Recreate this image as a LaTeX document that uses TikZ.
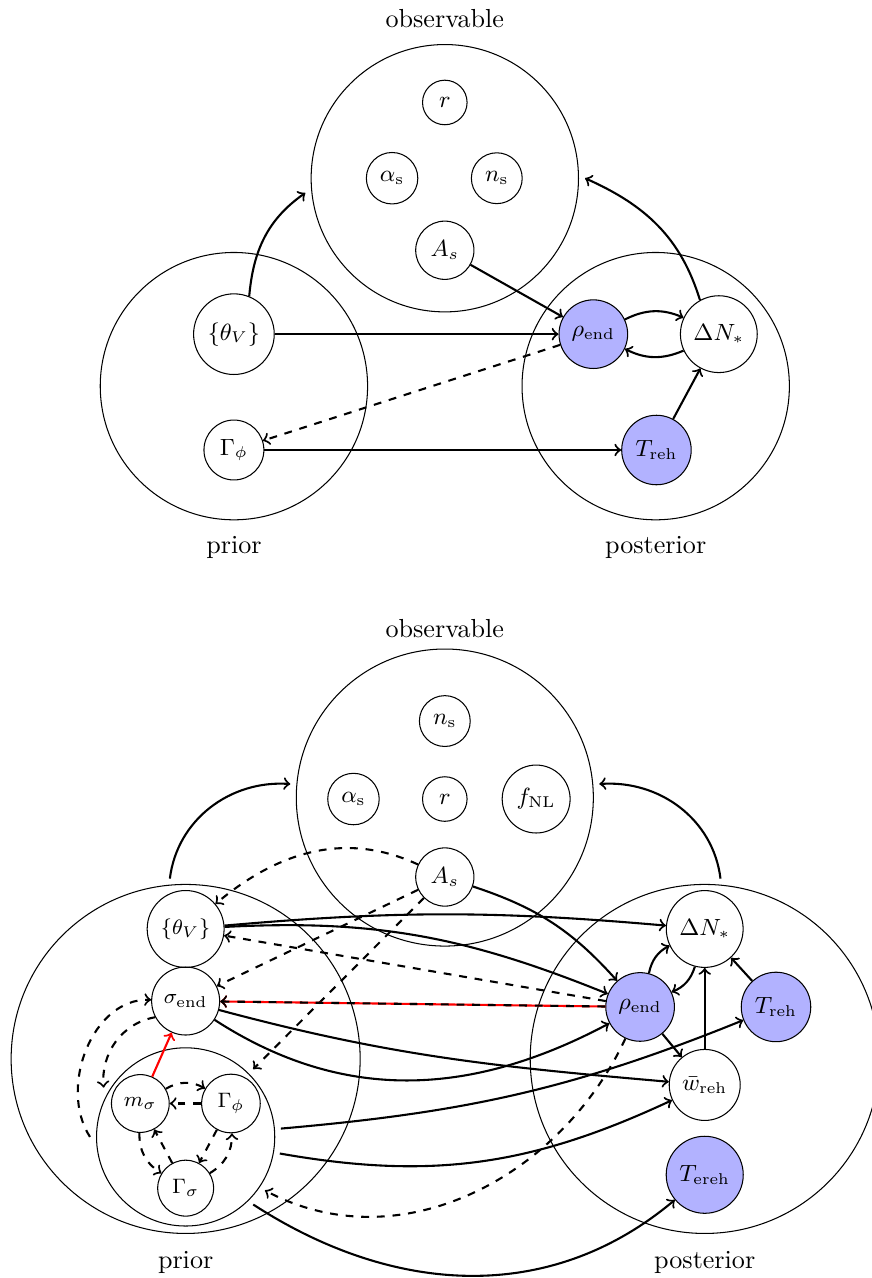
\documentclass[tikz,border=0pt]{standalone}
\usepackage{amsmath}

\begin{document}
\begin{tikzpicture}[
		var/.style={circle,draw,thin,minimum size=0.6cm,font=\small},
		svar/.style={var,font=\footnotesize},
		known/.style={var,fill=blue!30},
		region/.style={circle,draw,thin,outer sep=2.5pt},
		flow/.style={->,thick},
		dep/.style={->,thick,dashed}]
	\useasboundingbox (-5.99,2.40) rectangle (5.75,-14.81);

	% first graph
	\node[region,minimum size=3.6cm] (obs) at (0,0) {};
	\node[region,minimum size=3.6cm] (prior) at (-2.84,-2.80) {};
	\node[region,minimum size=3.6cm] (post) at (2.84,-2.80) {};
	\node (obsl) at (0,2.15) {observable};
	\node (priorl) at (-2.84,-4.97) {prior};
	\node (postl) at (2.84,-4.97) {posterior};

	\node[var] (r) at (0,1.02) {$r$};
	\node[var] (alphas) at (-0.71,0) {$\alpha_{\mathrm{s}}$};
	\node[var] (ns) at (0.70,0) {$n_{\mathrm{s}}$};
	\node[var] (As) at (0,-0.97) {$A_s$};
	\node[var] (theta) at (-2.84,-2.10) {$\{\theta_V\}$};
	\node[var] (Gphi) at (-2.84,-3.66) {$\Gamma_\phi$};
	\node[known] (rho) at (2.00,-2.10) {$\rho_{\mathrm{end}}$};
	\node[var] (dN) at (3.69,-2.10) {$\Delta N_*$};
	\node[known] (Treh) at (2.85,-3.66) {$T_{\mathrm{reh}}$};

	\draw[flow] (theta) -- (rho);
	\draw[flow] (Gphi) -- (Treh);
	\draw[flow] (As) -- (rho);
	\draw[flow] (rho) to[bend left=25] (dN);
	\draw[flow] (dN) to[bend left=25] (rho);
	\draw[flow] (Treh) -- (dN);
	\draw[dep] (rho) -- (Gphi);
	\draw[flow] (theta.68) to[out=85,in=215] (obs.186);
	\draw[flow] (dN.119) to[out=107,in=-24] (obs.0);

	% second graph
	\node[region,minimum size=4cm] (obs2) at (0,-8.34) {};
	\node[region,minimum size=4.7cm] (prior2) at (-3.49,-11.86) {};
	\node[region,minimum size=4.7cm] (post2) at (3.50,-11.86) {};
	\node[region,minimum size=2.4cm] (sector) at (-3.49,-12.91) {};
	\node (obsl2) at (0,-6.06) {observable};
	\node (priorl2) at (-3.49,-14.60) {prior};
	\node (postl2) at (3.50,-14.60) {posterior};

	\node[var] (ns2) at (0,-7.31) {$n_{\mathrm{s}}$};
	\node[var] (alphas2) at (-1.23,-8.36) {$\alpha_{\mathrm{s}}$};
	\node[var] (r2) at (0,-8.36) {$r$};
	\node[var] (fNL) at (1.23,-8.36) {$f_{\mathrm{NL}}$};
	\node[var] (As2) at (0,-9.41) {$A_s$};

	\node[svar] (theta2) at (-3.49,-10.11) {$\{\theta_V\}$};
	\node[svar] (sigend) at (-3.49,-11.08) {$\sigma_{\mathrm{end}}$};
	\node[svar] (msig) at (-4.10,-12.46) {$m_\sigma$};
	\node[svar] (Gphi2) at (-2.88,-12.46) {$\Gamma_\phi$};
	\node[svar] (Gsig) at (-3.49,-13.60) {$\Gamma_\sigma$};

	\node[var] (dN2) at (3.50,-10.11) {$\Delta N_*$};
	\node[known] (rho2) at (2.63,-11.16) {$\rho_{\mathrm{end}}$};
	\node[known] (Treh2) at (4.46,-11.16) {$T_{\mathrm{reh}}$};
	\node[var] (wreh) at (3.50,-12.21) {$\bar{w}_{\mathrm{reh}}$};
	\node[known] (Tereh) at (3.50,-13.42) {$T_{\mathrm{ereh}}$};

	\draw[flow] (prior2.95) to[out=83,in=176] (obs2.175);
	\draw[flow] (post2.85) to[out=97,in=4] (obs2.5);

	\draw[dep] (As2) to[out=155,in=40] (theta2);
	\draw[dep] (As2) -- (sigend);
	\draw[dep] (As2) -- (sector);
	\draw[flow] (As2) to[bend left=15] (rho2);
	\draw[flow] (theta2) to[bend left=5] (dN2);
	\draw[flow] (theta2) to[out=3,in=158] (rho2);
	\draw[dep] (rho2) -- (theta2);
	\draw[flow,red] (rho2) -- (sigend);
	\draw[dep] (rho2) -- (sigend);
	\draw[flow] (sigend) to[out=-15,in=175] (wreh);
	\draw[flow] (sigend) to[out=-33,in=208] (rho2);
	\draw[flow] (sector) to[out=5,in=202] (Treh2);
	\draw[flow] (sector) to[out=-10,in=205] (wreh);
	\draw[dep] (rho2) to[out=245,in=-28] (sector.-34);
	\draw[flow] (sector.-45) to[out=-33,in=220] (Tereh);
	\draw[dep] (sector.180) to[out=123,in=178] (sigend);
	\draw[dep] (sigend.208) to[out=190,in=95] (sector.149);

	\draw[flow,red] (msig) -- (sigend);
	\draw[dep] (msig) to[bend left=30] (Gphi2);
	\draw[dep] (Gphi2) -- (msig);
	\draw[dep] (msig) to[bend right=30] (Gsig);
	\draw[dep] (Gsig) -- (msig);
	\draw[dep] (Gphi2) -- (Gsig);
	\draw[dep] (Gsig) to[bend right=30] (Gphi2);

	\draw[flow] (rho2) to[bend left=25] (dN2);
	\draw[flow] (dN2) to[bend left=25] (rho2);
	\draw[flow] (wreh) -- (dN2);
	\draw[flow] (Treh2) -- (dN2);
	\draw[flow] (rho2) -- (wreh);
\end{tikzpicture}
\end{document}
